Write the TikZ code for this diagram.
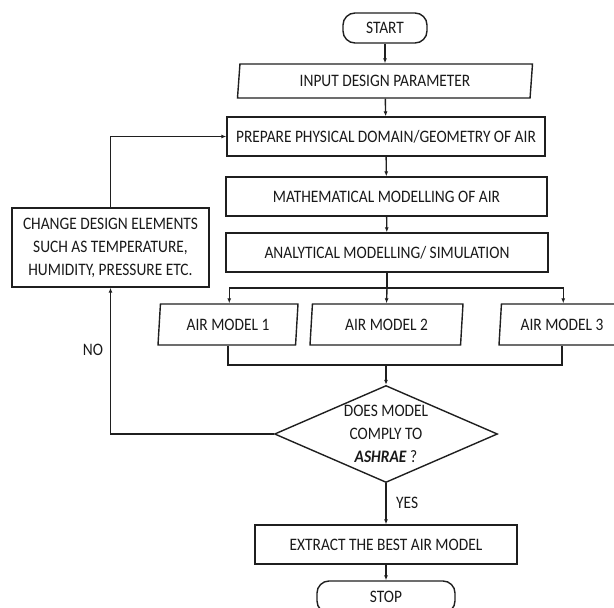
\documentclass[tikz,border=0pt]{standalone}
\usepackage{fontspec}
\setmainfont{Carlito}[FakeStretch=0.88]
\usetikzlibrary{shapes.geometric,arrows.meta}
\begin{document}
\begin{tikzpicture}[x=1pt,y=-1pt,
  every node/.style={font=\fontsize{17.5}{23}\selectfont, text=black!90},
  line/.style={line width=1.4pt, draw=black!88},
  arr/.style={line, -{Latex[length=5pt,width=4pt]}},
  procbox/.style={draw=black!88, line width=1.4pt, rectangle, inner sep=0pt, align=center},
  termbox/.style={draw=black!88, line width=1.4pt, rectangle, rounded corners=12pt, inner sep=0pt},
  iobox/.style={draw=black!88, line width=1.4pt, trapezium, trapezium left angle=78, trapezium right angle=102, trapezium stretches body, inner sep=0pt},
  decbox/.style={draw=black!88, line width=1.4pt, diamond, aspect=2.3, inner sep=0pt, align=center}
]
\useasboundingbox (0,0) rectangle (614,608);
\node[termbox, minimum width=84pt, minimum height=30pt] (start) at (385,28) {START};
\node[iobox, minimum width=295pt, minimum height=34pt] (inp) at (385,81) {INPUT DESIGN PARAMETER};
\node[procbox, minimum width=318pt, minimum height=39pt] (prep) at (386,136.5) {PREPARE PHYSICAL DOMAIN/GEOMETRY OF AIR};
\node[procbox, minimum width=321pt, minimum height=39pt] (math) at (386.5,196.5) {MATHEMATICAL MODELLING OF AIR};
\node[procbox, minimum width=322pt, minimum height=39pt] (ana) at (387,252.5) {ANALYTICAL MODELLING/ SIMULATION};
\node[procbox, minimum width=197pt, minimum height=79pt] (chg) at (110.5,247.5) {CHANGE DESIGN ELEMENTS\\SUCH AS TEMPERATURE,\\HUMIDITY, PRESSURE ETC.};
\node[iobox, minimum width=140pt, minimum height=41pt] (m1) at (228,324.5) {AIR MODEL 1};
\node[iobox, minimum width=153pt, minimum height=41pt] (m2) at (386.5,324.5) {AIR MODEL 2};
\node[iobox, minimum width=126pt, minimum height=41pt] (m3) at (562,324.5) {AIR MODEL 3};
\node[decbox, minimum width=223pt, minimum height=97pt] (dia) at (386,434) {DOES MODEL\\COMPLY TO\\\textbf{\textit{ASHRAE}} ?};
\node[procbox, minimum width=262pt, minimum height=39pt] (ext) at (386,544.5) {EXTRACT THE BEST AIR MODEL};
\node[termbox, minimum width=138pt, minimum height=32pt] (stop) at (386,597) {STOP};
\node (no) at (93,350) {NO};
\node[anchor=west, inner sep=0pt] (yes) at (396,503) {YES};
\coordinate (br) at (387,288);
\coordinate (mg) at (386,365);
\draw[arr] (start) -- (inp);
\draw[arr] (inp) -- (prep);
\draw[arr] (prep) -- (math);
\draw[arr] (math) -- (ana);
\draw[line] (ana.south) -- (br);
\draw[arr] (br) -| (m1.top side);
\draw[arr] (br) -- (m2.north);
\draw[arr] (br) -| (m3.top side);
\draw[line] (m1.south) |- (mg) -| (m3.south);
\draw[arr] (mg) -- (dia.north);
\draw[arr] (dia.south) -- (ext.north);
\draw[arr] (ext.south) -- (stop.north);
\draw[arr] (dia.west) -| (chg.south);
\draw[arr] (chg.north) |- (prep.west);
\end{tikzpicture}
\end{document}
